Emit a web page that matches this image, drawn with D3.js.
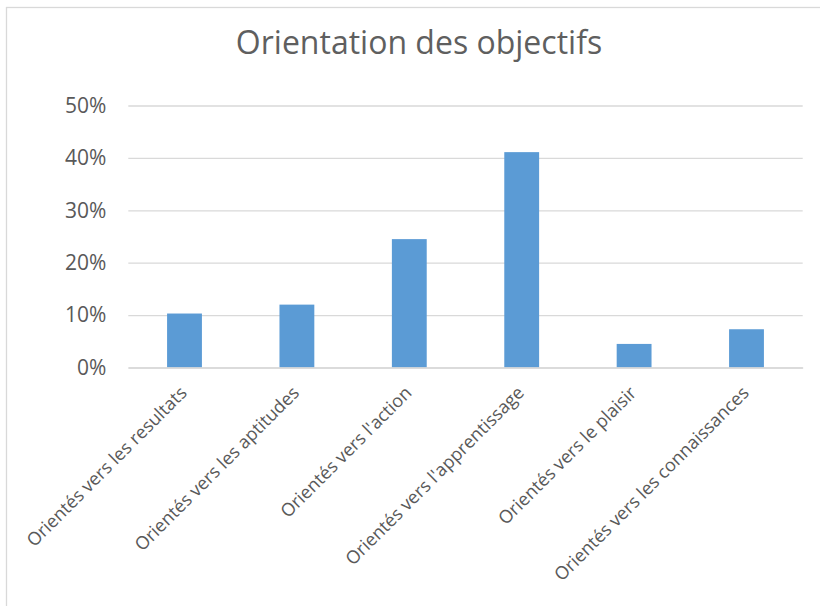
<!DOCTYPE html>
<html>
<head>
<meta charset="utf-8">
<script src="https://cdn.jsdelivr.net/npm/d3@7"></script>
<style>
  body { margin: 0; background: #fff; }
  svg { display: block; font-family: "Open Sans", sans-serif; }
</style>
</head>
<body>
<svg id="myChart" width="820" height="606"></svg>
<script>
// chart data
const categories = [
	"Orientés vers les resultats",
	"Orientés vers les aptitudes",
	"Orientés vers l'action",
	"Orientés vers l'apprentissage",
	"Orientés vers le plaisir",
	"Orientés vers les connaissances"
];
const values = [0.103, 0.120, 0.245, 0.411, 0.045, 0.073];
const yTicks = [0, 0.1, 0.2, 0.3, 0.4, 0.5];
const title = "Orientation des objectifs";

let svg = d3.select('#myChart');

// chart border
svg.append('rect')
	.attr('x', 6.5)
	.attr('y', 7.5)
	.attr('width', 830)
	.attr('height', 620)
	.attr('fill', 'none')
	.attr('stroke', '#d9d9d9')
	.attr('stroke-width', 1.3);

svg.append('text')
	.attr('x', 419)
	.attr('y', 54)
	.attr('text-anchor', 'middle')
	.attr('fill', '#5f5f5f')
	.style('font-size', '32px')
	.text(title);

let xScale = d3.scaleBand()
	.domain(categories)
	.range([128.3, 802.7])
	.paddingInner(0.69)
	.paddingOuter(0.345);

let yScale = d3.scaleLinear()
	.domain([0, 0.5])
	.range([367.5, 105.5]);

// gridlines + y labels
let yAxis = svg.append('g')
	.attr('transform', 'translate(128.3, 0)')
	.call(d3.axisLeft(yScale)
		.tickValues(yTicks)
		.tickFormat(d3.format('.0%'))
		.tickSize(-(802.7 - 128.3))
		.tickPadding(22));

yAxis.select('.domain').remove();
yAxis.selectAll('line')
	.attr('stroke', '#d9d9d9')
	.attr('stroke-width', 1.3);
yAxis.selectAll('text')
	.attr('fill', '#595959')
	.style('font-size', '21px')
	.style('font-family', '"Open Sans", sans-serif');

// bars
svg.append('g')
	.selectAll('rect')
	.data(values)
	.enter()
	.append('rect')
		.attr('x', (d, i) => xScale(categories[i]))
		.attr('y', d => yScale(d))
		.attr('width', xScale.bandwidth())
		.attr('height', d => yScale(0) - yScale(d))
		.attr('fill', '#5b9bd5');

// x labels, rotated
let xAxis = svg.append('g')
	.attr('transform', 'translate(0, ' + yScale(0) + ')')
	.call(d3.axisBottom(xScale).tickSize(0).tickPadding(0));

xAxis.select('.domain')
	.attr('stroke', '#d9d9d9')
	.attr('stroke-width', 1.3);
xAxis.selectAll('text')
	.attr('fill', '#595959')
	.style('font-size', '18px')
	.style('font-family', '"Open Sans", sans-serif')
	.attr('text-anchor', 'end')
	.attr('y', 0)
	.attr('dy', '0.35em')
	.attr('transform', 'translate(-1, 22) rotate(-45)');
</script>
</body>
</html>
